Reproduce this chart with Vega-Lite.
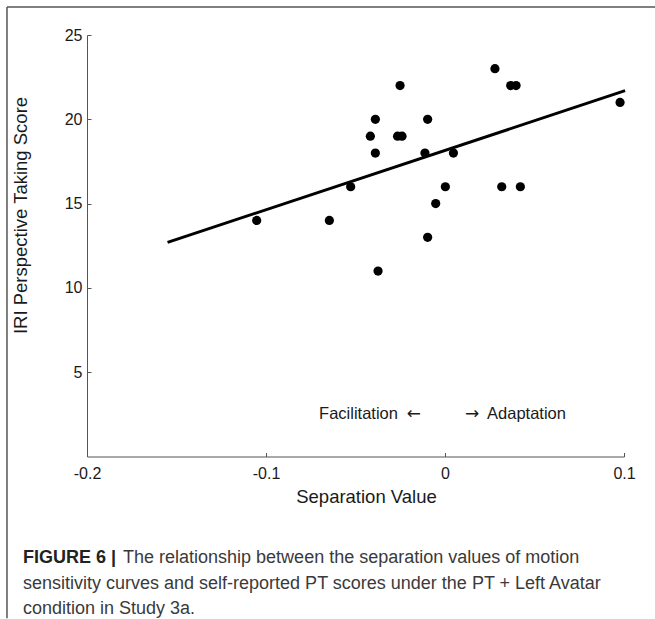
{
  "$schema": "https://vega.github.io/schema/vega-lite/v6.json",
  "width": 537,
  "height": 421.5,
  "autosize": {"type": "none"},
  "padding": {"left": 87, "top": 35, "right": 31, "bottom": 162},
  "background": "white",
  "config": {"view": {"stroke": null}, "font": "Liberation Sans"},
  "title": {
    "text": "FIGURE 6 |",
    "subtitle": ["\u200b\u00a0\u00a0\u00a0\u00a0\u00a0\u00a0\u00a0\u00a0\u00a0\u00a0\u00a0\u00a0\u00a0\u00a0\u00a0\u00a0\u00a0\u00a0\u00a0\u00a0The relationship between the separation values of motion", "sensitivity curves and self-reported PT scores under the PT + Left Avatar", "condition in Study 3a."],
    "orient": "bottom",
    "anchor": "start",
    "frame": "group",
    "dx": -64,
    "offset": -70,
    "font": "Liberation Sans",
    "fontSize": 18,
    "fontWeight": "bold",
    "color": "#222222",
    "subtitleFont": "Liberation Sans",
    "subtitleFontSize": 18,
    "subtitleFontWeight": "normal",
    "subtitleColor": "#3a3a3a",
    "subtitleLineHeight": 25.5,
    "subtitlePadding": -18
  },
  "datasets": {
    "points": [
      {"separation": -0.1052, "score": 14},
      {"separation": -0.0646, "score": 14},
      {"separation": -0.0527, "score": 16},
      {"separation": -0.0389, "score": 20},
      {"separation": -0.0417, "score": 19},
      {"separation": -0.0389, "score": 18},
      {"separation": -0.0251, "score": 22},
      {"separation": -0.0265, "score": 19},
      {"separation": -0.0240, "score": 19},
      {"separation": -0.0097, "score": 20},
      {"separation": -0.0112, "score": 18},
      {"separation": 0.0047, "score": 18},
      {"separation": 0.0002, "score": 16},
      {"separation": -0.0052, "score": 15},
      {"separation": -0.0097, "score": 13},
      {"separation": -0.0374, "score": 11},
      {"separation": 0.0279, "score": 23},
      {"separation": 0.0367, "score": 22},
      {"separation": 0.0397, "score": 22},
      {"separation": 0.0317, "score": 16},
      {"separation": 0.0421, "score": 16},
      {"separation": 0.0978, "score": 21}
    ],
    "fit": [
      {"separation": -0.155, "score": 12.7},
      {"separation": 0.1006, "score": 21.7}
    ]
  },
  "layer": [
    {
      "data": {"values": [{"x1": -0.2447, "x2": 0.12, "y1": 26.66}]},
      "mark": {"type": "rule", "color": "#555555", "strokeWidth": 1.5, "clip": false},
      "encoding": {
        "x": {"field": "x1", "type": "quantitative", "scale": {"domain": [-0.2, 0.1], "nice": false, "zero": false}},
        "x2": {"field": "x2"},
        "y": {"field": "y1", "type": "quantitative", "scale": {"domain": [0, 25], "nice": false}}
      }
    },
    {
      "data": {"values": [{"x1": -0.2447, "y1": 26.66, "y2": -9.6}]},
      "mark": {"type": "rule", "color": "#555555", "strokeWidth": 1.5, "clip": false},
      "encoding": {
        "x": {"field": "x1", "type": "quantitative"},
        "y": {"field": "y1", "type": "quantitative"},
        "y2": {"field": "y2"}
      }
    },
    {
      "mark": {"type": "rule", "color": "#333333", "strokeWidth": 1},
      "encoding": {
        "x": {"datum": 0, "type": "quantitative"},
        "y": {"datum": 0, "type": "quantitative"},
        "y2": {"datum": 25}
      }
    },
    {
      "data": {"name": "fit"},
      "mark": {"type": "line", "color": "black", "strokeWidth": 3},
      "encoding": {
        "x": {"field": "separation", "type": "quantitative"},
        "y": {"field": "score", "type": "quantitative"}
      }
    },
    {
      "data": {"name": "points"},
      "mark": {"type": "circle", "color": "black", "opacity": 1, "size": 85},
      "encoding": {
        "x": {
          "field": "separation",
          "type": "quantitative",
          "title": "Separation Value",
          "axis": {
            "values": [-0.2, -0.1, 0, 0.1],
            "labelExpr": "toString(datum.value)",
            "labelFlush": false,
            "grid": false,
            "tickSize": -4,
            "tickColor": "#555555",
            "domainColor": "#555555",
            "labelPadding": 13,
            "labelFontSize": 16,
            "labelColor": "#1a1a1a",
            "labelFont": "Liberation Sans",
            "titleFont": "Liberation Sans",
            "titleFontSize": 18.5,
            "titleFontWeight": "normal",
            "titleColor": "#1a1a1a",
            "titlePadding": 6,
            "titleX": 279
          }
        },
        "y": {
          "field": "score",
          "type": "quantitative",
          "title": "IRI Perspective Taking Score",
          "axis": {
            "values": [5, 10, 15, 20, 25],
            "labelFlush": false,
            "grid": false,
            "tickSize": -4,
            "tickColor": "#555555",
            "domainColor": "#555555",
            "labelPadding": 9,
            "labelFontSize": 16,
            "labelColor": "#1a1a1a",
            "labelFont": "Liberation Sans",
            "titleFont": "Liberation Sans",
            "titleFontSize": 18.5,
            "titleFontWeight": "normal",
            "titleColor": "#1a1a1a",
            "titlePadding": 34,
            "titleY": 180
          }
        }
      }
    },
    {
      "data": {"values": [{"separation": -0.0263, "score": 2.55, "label": "Facilitation"}]},
      "mark": {"type": "text", "align": "right", "baseline": "middle", "fontSize": 16.5, "color": "#1a1a1a", "font": "Liberation Sans"},
      "encoding": {
        "x": {"field": "separation", "type": "quantitative"},
        "y": {"field": "score", "type": "quantitative"},
        "text": {"field": "label"}
      }
    },
    {
      "data": {"values": [{"separation": 0.0235, "score": 2.55, "label": "Adaptation"}]},
      "mark": {"type": "text", "align": "left", "baseline": "middle", "fontSize": 16.5, "color": "#1a1a1a", "font": "Liberation Sans"},
      "encoding": {
        "x": {"field": "separation", "type": "quantitative"},
        "y": {"field": "score", "type": "quantitative"},
        "text": {"field": "label"}
      }
    },
    {
      "data": {"values": [{"separation": -0.0134, "score": 2.55, "label": "←"}]},
      "mark": {"type": "text", "align": "right", "baseline": "middle", "fontSize": 17, "color": "#1a1a1a", "font": "DejaVu Sans"},
      "encoding": {
        "x": {"field": "separation", "type": "quantitative"},
        "y": {"field": "score", "type": "quantitative"},
        "text": {"field": "label"}
      }
    },
    {
      "data": {"values": [{"separation": 0.0112, "score": 2.55, "label": "→"}]},
      "mark": {"type": "text", "align": "left", "baseline": "middle", "fontSize": 17, "color": "#1a1a1a", "font": "DejaVu Sans"},
      "encoding": {
        "x": {"field": "separation", "type": "quantitative"},
        "y": {"field": "score", "type": "quantitative"},
        "text": {"field": "label"}
      }
    }
  ]
}
